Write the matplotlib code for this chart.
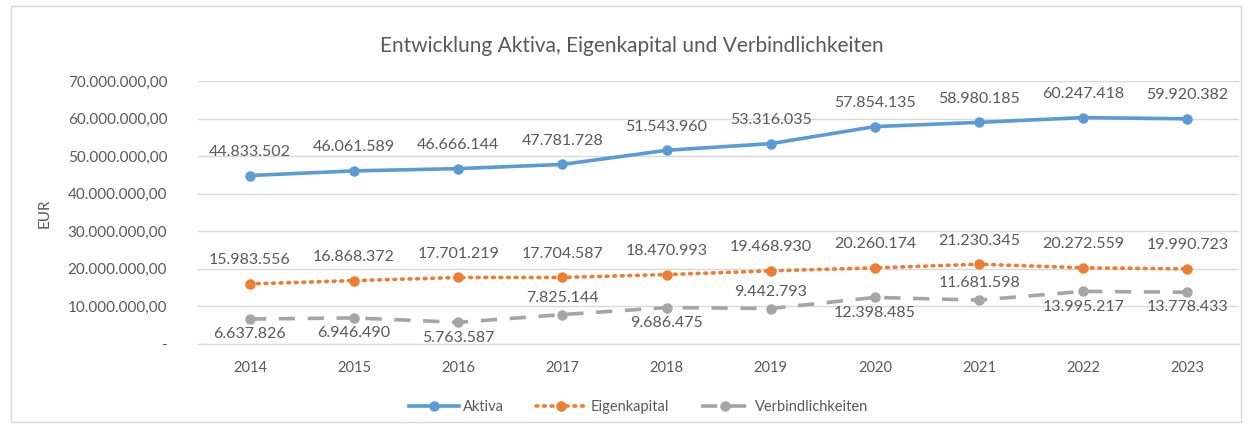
import matplotlib.pyplot as plt
from matplotlib.patches import Rectangle
from matplotlib.ticker import FuncFormatter

# Daten aus dem Diagramm
jahre = ['2014', '2015', '2016', '2017', '2018', '2019', '2020', '2021', '2022', '2023']
aktiva = [44833502, 46061589, 46666144, 47781728, 51543960, 53316035, 57854135, 58980185, 60247418, 59920382]
eigenkapital = [15983556, 16868372, 17701219, 17704587, 18470993, 19468930, 20260174, 21230345, 20272559, 19990723]
verbindlichkeiten = [6637826, 6946490, 5763587, 7825144, 9686475, 9442793, 12398485, 11681598, 13995217, 13778433]
# Lage der Beschriftung bei Verbindlichkeiten (oben / unten)
verb_oben = [False, False, False, True, False, True, False, True, False, False]

plt.rcParams['font.family'] = ['Lato', 'DejaVu Sans']

blau = '#5B9BD5'
orange = '#ED7D31'
grau = '#A5A5A5'
text_farbe = '#595959'


def de_zahl(v):
    return f'{v:,.0f}'.replace(',', '.')


def achse_fmt(v, pos):
    if v == 0:
        return '-'
    s = f'{v:,.2f}'
    return s.replace(',', 'X').replace('.', ',').replace('X', '.')


fig = plt.figure(figsize=(12.52, 4.26), dpi=100)
fig.patches.append(Rectangle((0.009, 0.01), 0.982, 0.975, transform=fig.transFigure,
                             fill=False, edgecolor='#D9D9D9', linewidth=1))
ax = fig.add_axes([0.158, 0.1925, 0.832, 0.6175])

x = range(len(jahre))
ax.plot(x, aktiva, color=blau, linewidth=2.6, marker='o', markersize=6.5, label='Aktiva')
ax.plot(x, eigenkapital, color=orange, linewidth=2.6, linestyle=(0, (0.5, 1.6)),
        dash_capstyle='round', marker='o', markersize=6.5, label='Eigenkapital')
ax.plot(x, verbindlichkeiten, color=grau, linewidth=2.6, linestyle=(0, (4.5, 3.5)),
        marker='o', markersize=6.5, label='Verbindlichkeiten')

for i in x:
    ax.annotate(de_zahl(aktiva[i]), (i, aktiva[i]), xytext=(0, 17), textcoords='offset points',
                ha='center', va='center', fontsize=11.5, color=text_farbe)
    ax.annotate(de_zahl(eigenkapital[i]), (i, eigenkapital[i]), xytext=(0, 17), textcoords='offset points',
                ha='center', va='center', fontsize=11.5, color=text_farbe)
    dy = 12 if verb_oben[i] else -11
    ax.annotate(de_zahl(verbindlichkeiten[i]), (i, verbindlichkeiten[i]), xytext=(0, dy),
                textcoords='offset points', ha='center', va='center', fontsize=11.5, color=text_farbe)

ax.set_xlim(-0.5, len(jahre) - 0.5)
ax.set_ylim(0, 70000000)
ax.set_yticks(range(0, 70000001, 10000000))
ax.yaxis.set_major_formatter(FuncFormatter(achse_fmt))
ax.set_xticks(list(x))
ax.set_xticklabels(jahre)
ax.tick_params(axis='both', length=0, labelsize=10.5, labelcolor=text_farbe)
ax.tick_params(axis='y', labelsize=11, pad=22)
ax.tick_params(axis='x', pad=12)
ax.grid(axis='y', color='#D9D9D9', linewidth=1)
ax.set_axisbelow(True)
for s in ['top', 'right', 'left']:
    ax.spines[s].set_visible(False)
ax.spines['bottom'].set_color('#D9D9D9')

fig.text(0.036, 0.5, 'EUR', rotation=90, ha='center', va='center', fontsize=11, color=text_farbe)
fig.text(0.505, 0.893, 'Entwicklung Aktiva, Eigenkapital und Verbindlichkeiten',
         ha='center', va='center', fontsize=15, color=text_farbe)

fig.legend(loc='center', bbox_to_anchor=(0.51, 0.045), ncol=3, frameon=False,
           fontsize=10.5, labelcolor=text_farbe, handlelength=3.4, handletextpad=0.3,
           columnspacing=2.2)

fig.savefig('out.png', dpi=100)
